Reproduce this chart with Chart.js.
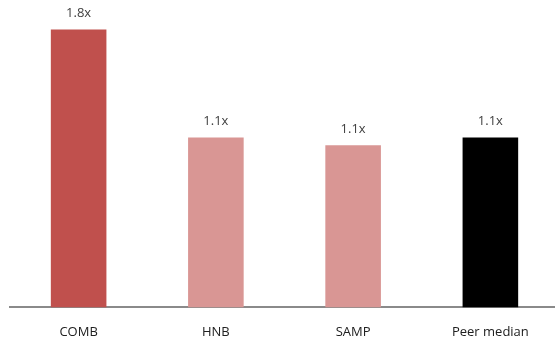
<!DOCTYPE html>
<html>
<head>
<meta charset="utf-8">
<script src="https://cdn.jsdelivr.net/npm/chart.js@4"></script>
<style>
  html, body { margin: 0; padding: 0; background: #fff; overflow: hidden; }
  #wrap { width: 559px; height: 349px; }
</style>
</head>
<body>
<div id="wrap"><canvas id="pbv-chart"></canvas></div>
<script>
// chart data
const categories = ['COMB', 'HNB', 'SAMP', 'Peer median'];
const multiples = [1.80, 1.10, 1.05, 1.10];
const valueLabels = ['1.8x', '1.1x', '1.1x', '1.1x'];
const barColors = ['#c0504d', '#d99694', '#d99694', '#000000'];

// draws the "1.1x" labels above each bar
const valueLabelPlugin = {
    id: 'valueLabels',
    afterDatasetsDraw(chart) {
        const ctx = chart.ctx;
        const meta = chart.getDatasetMeta(0);
        ctx.save();
        ctx.font = '13px "Open Sans", sans-serif';
        ctx.fillStyle = '#404040';
        ctx.textAlign = 'center';
        ctx.textBaseline = 'middle';
        meta.data.forEach((bar, i) => {
            ctx.fillText(valueLabels[i], bar.x, bar.y - 16);
        });
        ctx.restore();
    }
};

const ctx = document.getElementById('pbv-chart').getContext('2d');
const pbvChart = new Chart(ctx, {
    type: 'bar',
    data: {
        labels: categories,
        datasets: [{
            data: multiples,
            backgroundColor: barColors,
            borderWidth: 0,
            barPercentage: 0.405,
            categoryPercentage: 1.0
        }]
    },
    options: {
        responsive: true,
        maintainAspectRatio: false,
        animation: false,
        layout: {
            padding: { left: 10, right: 0, top: 14, bottom: 0 }
        },
        plugins: {
            legend: { display: false },
            tooltip: { enabled: false }
        },
        scales: {
            x: {
                grid: { display: false },
                border: { color: '#8a8a8a', width: 2 },
                ticks: {
                    color: '#202020',
                    padding: 9,
                    font: { family: '"Open Sans", sans-serif', size: 13 }
                }
            },
            y: {
                display: false,
                min: 0,
                max: 1.9
            }
        }
    },
    plugins: [valueLabelPlugin]
});
</script>
</body>
</html>
